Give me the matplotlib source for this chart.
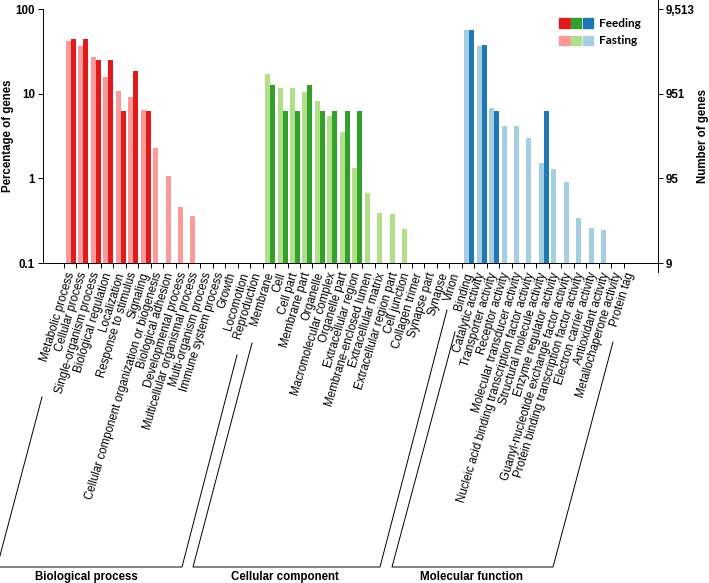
import numpy as np
import matplotlib
matplotlib.use('Agg')
import matplotlib.pyplot as plt
from matplotlib.patches import Patch
from matplotlib.lines import Line2D
from matplotlib.legend_handler import HandlerTuple
from matplotlib.ticker import NullLocator

plt.rcParams['font.family'] = ['Liberation Sans', 'DejaVu Sans']

# GO categories
bp_labels = ['Metabolic process', 'Cellular process', 'Single-organism process',
             'Biological regulation', 'Localization', 'Response to stimulus', 'Signaling',
             'Cellular component organization or biogenesis', 'Biological adhesion',
             'Developmental process', 'Multicellular organismal process',
             'Multi-organism process', 'Immune system process', 'Growth', 'Locomotion',
             'Reproduction']
cc_labels = ['Membrane', 'Cell', 'Cell part', 'Membrane part', 'Organelle',
             'Macromolecular complex', 'Organelle part', 'Extracellular region',
             'Membrane-enclosed lumen', 'Extracellular matrix', 'Extracellular region part',
             'Cell junction', 'Collagen trimer', 'Synapse part', 'Synapse', 'Virion']
mf_labels = ['Binding', 'Catalytic activity', 'Transporter activity', 'Receptor activity',
             'Molecular transducer activity',
             'Nucleic acid binding transcription factor activity',
             'Structural molecule activity', 'Enzyme regulator activity',
             'Guanyl-nucleotide exchange factor activity',
             'Protein binding transcription factor activity', 'Electron carrier activity',
             'Antioxidant activity', 'Metallochaperone activity', 'Protein tag']

# percentage of genes (0 = no genes)
bp_fasting = [42.2, 36.6, 26.9, 15.6, 10.8, 9.2, 6.4, 2.3, 1.07, 0.46, 0.36, 0, 0, 0, 0, 0]
bp_feeding = [43.75, 43.75, 25, 25, 6.25, 18.75, 6.25, 0, 0, 0, 0, 0, 0, 0, 0, 0]
cc_fasting = [17.1, 11.7, 11.7, 10.4, 8.3, 5.5, 3.5, 1.34, 0.67, 0.39, 0.38, 0.25, 0, 0, 0, 0]
cc_feeding = [12.5, 6.25, 6.25, 12.5, 6.25, 6.25, 6.25, 6.25, 0, 0, 0, 0, 0, 0, 0, 0]
mf_fasting = [56.5, 36.6, 6.7, 4.2, 4.2, 2.97, 1.53, 1.3, 0.9, 0.34, 0.26, 0.245, 0, 0]
mf_feeding = [56.25, 37.5, 6.25, 0, 0, 0, 6.25, 0, 0, 0, 0, 0, 0, 0]

total_genes = ['9', '95', '951', '9,513']

groups = [
    ('Biological process', bp_labels, bp_fasting, bp_feeding, '#fb9a99', '#e31a1c'),
    ('Cellular component', cc_labels, cc_fasting, cc_feeding, '#b2df8a', '#33a02c'),
    ('Molecular function', mf_labels, mf_fasting, mf_feeding, '#a6cee3', '#1f78b4'),
]

W, H = 709, 583
fig = plt.figure(figsize=(W / 100, H / 100), dpi=100)
ax = fig.add_axes([43 / W, 1 - 263 / H, 615 / W, 254 / H])
ax.set_yscale('log')

bw = 0.4
start = 0
all_labels = []
for name, labels, fasting, feeding, light, dark in groups:
    pos = np.arange(len(labels)) + start
    fa = np.array(fasting, dtype=float)
    fe = np.array(feeding, dtype=float)
    ax.bar(pos[fa > 0] - bw / 2, fa[fa > 0], width=bw, color=light, linewidth=0)
    ax.bar(pos[fe > 0] + bw / 2, fe[fe > 0], width=bw, color=dark, linewidth=0)
    all_labels += labels
    start += len(labels)

xpos = np.arange(len(all_labels))
ax.set_xlim(-2.25, len(all_labels) + 1.17)
ax.set_ylim(0.1, 100)
ax.set_xticks(xpos)
ax.set_xticklabels(all_labels, rotation=73, ha='right', va='center',
                   rotation_mode='anchor', fontsize=8.3)
ax.set_xticks(xpos - 0.6, minor=True)
ax.tick_params(axis='x', which='major', length=0, pad=7)
ax.tick_params(axis='x', which='minor', length=3.6, width=0.7, direction='out')

ax.set_yticks([0.1, 1, 10, 100])
ax.set_yticklabels(['0.1', '1', '10', '100'], fontweight='bold', fontsize=8.3)
ax.yaxis.set_minor_locator(NullLocator())
ax.tick_params(axis='y', length=3.6, width=0.7, pad=2)
ax.set_ylabel('Percentage of genes', fontweight='bold', fontsize=8.3)
ax.yaxis.set_label_coords(-29 / 615, 0.5)

for s in ['top', 'right']:
    ax.spines[s].set_visible(False)
for s in ['left', 'bottom']:
    ax.spines[s].set_linewidth(0.7)

ax2 = ax.twinx()
ax2.set_yscale('log')
ax2.set_ylim(0.1, 100)
ax2.set_yticks([0.1, 1, 10, 100])
ax2.set_yticklabels(total_genes, fontweight='bold', fontsize=8.3)
ax2.yaxis.set_minor_locator(NullLocator())
ax2.tick_params(axis='y', length=3.6, width=0.7, pad=2)
ax2.set_ylabel('Number of genes', fontweight='bold', fontsize=8.3)
ax2.yaxis.set_label_coords(1 + 39 / 615, 0.5)
for s in ['top', 'left', 'bottom']:
    ax2.spines[s].set_visible(False)
ax2.spines['right'].set_linewidth(0.7)
ax2.spines['right'].set_bounds(10 ** (-1 - 9 / 84.67), 10 ** (2 + 9 / 84.67))

# legend: three colour swatches per row
feed_h = tuple(Patch(color=g[5]) for g in groups)
fast_h = tuple(Patch(color=g[4]) for g in groups)
ax.legend([feed_h, fast_h], ['Feeding', 'Fasting'],
          handler_map={tuple: HandlerTuple(ndivide=None, pad=0.1)},
          loc='upper left', bbox_to_anchor=((559 - 43) / 615, (263 - 18) / 254),
          frameon=False, handlelength=2.9, handleheight=0.85, handletextpad=0.5,
          labelspacing=0.55, borderpad=0, borderaxespad=0,
          prop={'family': 'Lato', 'weight': 'bold', 'size': 8.5})

# group brackets under the tick labels (pixel coords)
brackets = [
    ([42, -3, 182, 237], [397, 567, 567, 355], 86),
    ([252, 193, 380, 447], [343, 567, 567, 310], 285),
    ([455, 392, 553, 613], [332, 567, 567, 342], 472),
]
for (bx, by, tx), (name, *_rest) in zip(brackets, groups):
    fig.add_artist(Line2D(np.array(bx) / W, 1 - np.array(by) / H,
                          transform=fig.transFigure, color='black', lw=0.7))
    fig.text(tx / W, 1 - 577 / H, name, ha='center', va='center',
             fontweight='bold', fontsize=8.3)

fig.savefig('out.png', dpi=100)
